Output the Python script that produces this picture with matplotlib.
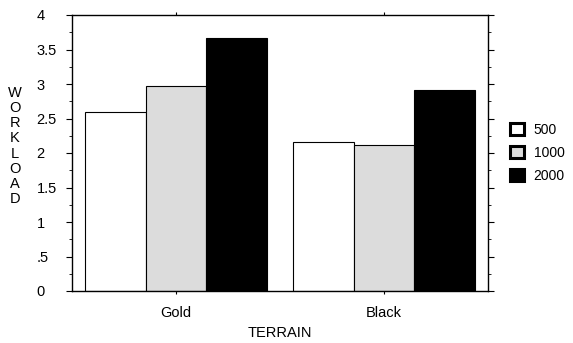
import matplotlib
matplotlib.use("Agg")
import matplotlib.pyplot as plt
import numpy as np
from matplotlib.patches import Patch
from matplotlib.ticker import MultipleLocator

plt.rcParams['font.family'] = ['Liberation Sans', 'DejaVu Sans']

# Data
terrains = ['Gold', 'Black']
series_labels = ['500', '1000', '2000']
workload_500 = [2.59, 2.16]
workload_1000 = [2.97, 2.12]
workload_2000 = [3.67, 2.91]
ytick_values = [0, 0.5, 1, 1.5, 2, 2.5, 3, 3.5, 4]
ytick_labels = ['0', '.5', '1', '1.5', '2', '2.5', '3', '3.5', '4']

colors = ['white', '#dcdcdc', 'black']
series = [workload_500, workload_1000, workload_2000]

fig = plt.figure(figsize=(5.73, 3.43), dpi=100)
ax = fig.add_axes([72 / 573, 1 - 291 / 343, 416 / 573, 276 / 343])

x = np.arange(len(terrains))
width = 0.293
for i, (vals, col) in enumerate(zip(series, colors)):
    ax.bar(x + (i - 1) * width, vals, width, color=col,
           edgecolor='black', linewidth=0.8, zorder=2)

ax.set_xlim(-0.5, 1.5)
ax.set_ylim(0, 4)
ax.set_xticks(x)
ax.set_xticklabels(terrains, fontsize=10.5)
ax.set_yticks(ytick_values)
ax.set_yticklabels(ytick_labels, fontsize=10.5)
ax.yaxis.set_minor_locator(MultipleLocator(0.25))

ax.tick_params(axis='x', which='major', direction='out', length=2,
               top=True, pad=9)
ax.tick_params(axis='y', which='major', direction='out', length=4.5,
               right=True, pad=21)
ax.tick_params(axis='y', which='minor', direction='out', length=2.5,
               right=True)
for lbl in ax.get_yticklabels():
    lbl.set_horizontalalignment('left')

for sp in ax.spines.values():
    sp.set_linewidth(1.0)

ax.set_xlabel('TERRAIN', fontsize=10.5, labelpad=4)
fig.text(15 / 573, 1 - 146 / 343, '\n'.join('WORKLOAD'), fontsize=10.5,
         ha='center', va='center', linespacing=1.1)

handles = [Patch(facecolor=c, edgecolor='black', linewidth=2.2) for c in colors]
fig.legend(handles, series_labels, loc='center left',
           bbox_to_anchor=(510 / 573, 1 - 153 / 343), frameon=False,
           fontsize=10, handlelength=1.0, handleheight=1.0,
           handletextpad=0.7, labelspacing=0.65, borderpad=0,
           borderaxespad=0)

fig.savefig('out.png', dpi=100)
